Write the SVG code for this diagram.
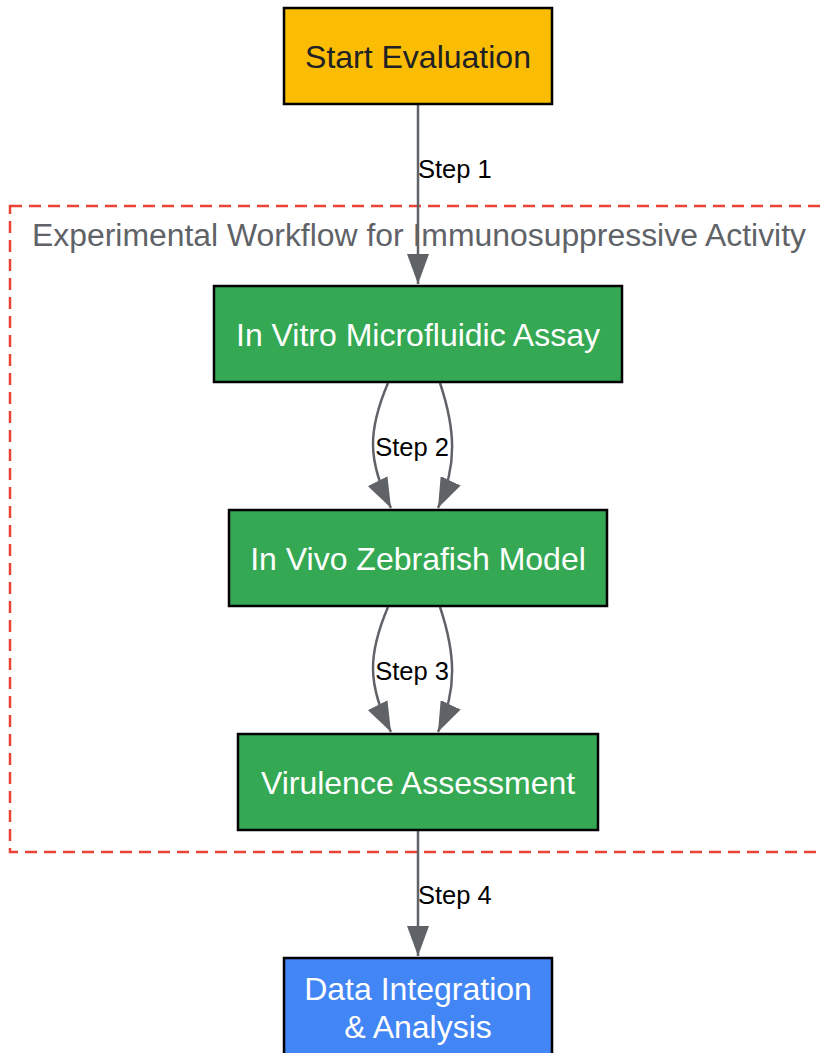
<svg xmlns="http://www.w3.org/2000/svg" width="823" height="1053" viewBox="0 0 823 1053">
<defs>
<style>
.node rect{stroke:#000;stroke-width:2.5}
.ntext{font-family:"Liberation Sans",Arial,sans-serif;font-size:32px;text-anchor:middle}
.elabel{font-family:"Liberation Sans",Arial,sans-serif;font-size:25.5px;fill:#000}
.edge{fill:none;stroke:#5f6368;stroke-width:2.5}
</style>
<marker id="arr" markerUnits="userSpaceOnUse" markerWidth="30" markerHeight="22" refX="30" refY="11" orient="auto" viewBox="0 0 30 22">
<path d="M0,0 L30,11 L0,22 z" fill="#5f6368"/>
</marker>
</defs>
<rect width="823" height="1053" fill="#fff"/>
<g id="cluster">
<rect x="10" y="206" width="840" height="646" fill="none" stroke="#EA4335" stroke-width="2.5" stroke-dasharray="12 7"/>
<text x="32" y="246" font-family="Liberation Sans, Arial, sans-serif" font-size="31" textLength="774" lengthAdjust="spacingAndGlyphs" fill="#5f6368">Experimental Workflow for Immunosuppressive Activity</text>
</g>
<g id="connectors">
<path class="edge" d="M418,104 L418,284" marker-end="url(#arr)"/>
<path class="edge" d="M388,383 C368,430 367,460 391,508" marker-end="url(#arr)"/>
<path class="edge" d="M440,383 C455,428 458,465 438,508" marker-end="url(#arr)"/>
<path class="edge" d="M388,607 C368,654 367,684 391,732" marker-end="url(#arr)"/>
<path class="edge" d="M440,607 C455,652 458,689 438,732" marker-end="url(#arr)"/>
<path class="edge" d="M418,830 L418,956" marker-end="url(#arr)"/>
<text class="elabel" x="418" y="178">Step 1</text>
<text class="elabel" x="412" y="456" text-anchor="middle">Step 2</text>
<text class="elabel" x="412" y="680" text-anchor="middle">Step 3</text>
<text class="elabel" x="418" y="904">Step 4</text>
</g>
<g id="start" class="node">
<rect x="284" y="8" width="268" height="96" fill="#FBBC04"/>
<text class="ntext" x="418" y="68" fill="#202124">Start Evaluation</text>
</g>
<g id="invitro" class="node">
<rect x="214" y="286" width="408" height="96" fill="#34A853"/>
<text class="ntext" x="418" y="346" fill="#fff">In Vitro Microfluidic Assay</text>
</g>
<g id="invivo" class="node">
<rect x="229" y="510" width="378" height="96" fill="#34A853"/>
<text class="ntext" x="418" y="570" fill="#fff">In Vivo Zebrafish Model</text>
</g>
<g id="virulence" class="node">
<rect x="238" y="734" width="360" height="96" fill="#34A853"/>
<text class="ntext" x="418" y="794" fill="#fff">Virulence Assessment</text>
</g>
<g id="data" class="node">
<rect x="284" y="958" width="268" height="110" fill="#4285F4"/>
<text class="ntext" x="418" y="1000" fill="#fff">Data Integration</text>
<text class="ntext" x="418" y="1038" fill="#fff">&amp; Analysis</text>
</g>
</svg>
